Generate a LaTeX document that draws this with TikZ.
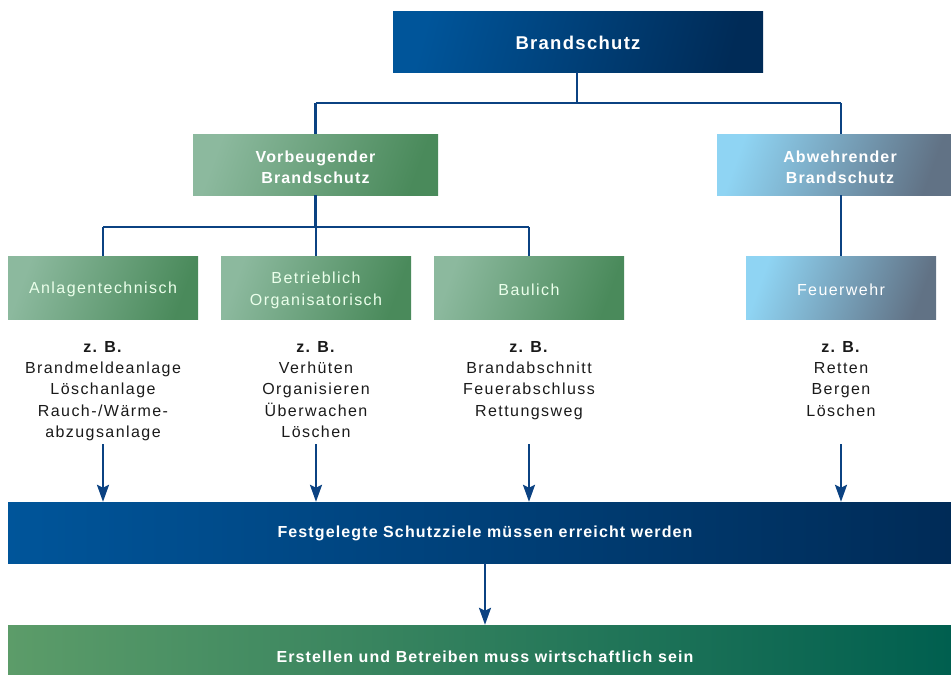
\documentclass[tikz,border=0pt]{standalone}
\usepackage{fontspec}
\setmainfont{Liberation Sans}[LetterSpace=9,BoldFeatures={LetterSpace=7}]
\usetikzlibrary{arrows.meta}
\definecolor{linec}{HTML}{0B4282}
\definecolor{bluel}{HTML}{00559A}
\definecolor{bluem}{HTML}{00468A}
\definecolor{blued}{HTML}{002B57}
\definecolor{greenl}{HTML}{8CB99E}
\definecolor{greend}{HTML}{4A8A5B}
\definecolor{skyl}{HTML}{8FD4F3}
\definecolor{skyd}{HTML}{617285}
\definecolor{gbl}{HTML}{5C9C69}
\definecolor{gbm}{HTML}{007558}
\definecolor{gbd}{HTML}{005F4F}
\definecolor{txt}{HTML}{1A1A1A}
\tikzset{
  box/.style={rectangle, inner sep=0pt},
  bluebox/.style={box, left color=bluel, right color=blued, shading angle=75},
  greenbox/.style={box, left color=greenl, right color=greend, shading angle=70},
  skybox/.style={box, left color=skyl, right color=skyd, shading angle=70},
  conn/.style={draw=linec, line width=2.5pt},
  arr/.style={draw=linec, line width=2.5pt, -{Stealth[length=17pt,width=12pt,inset=3pt]}},
  lst/.style={inner sep=0pt, align=center, text=txt, anchor=north, font=\fontsize{16}{21.4}\selectfont},
  lbl/.style={inner sep=0pt, align=center, text=white!92!green, font=\fontsize{16}{21.4}\selectfont},
  blbl/.style={inner sep=0pt, align=center, text=white, font=\fontsize{16}{21}\selectfont\bfseries},
}
\begin{document}
\begin{tikzpicture}[x=1pt,y=-1pt]
\useasboundingbox (0,0) rectangle (951,675);
% top
\node[bluebox, minimum width=370pt, minimum height=61pt] (bs) at (578,41.5) {};
\node[blbl, font=\fontsize{18.5}{21}\selectfont\bfseries] (bst) at (578,42.5) {Brandschutz};
% level 2
\node[greenbox, minimum width=245pt, minimum height=61pt] (vb) at (315.5,164.5) {};
\node[blbl] (vbt) at (315.5,167.5) {Vorbeugender\\Brandschutz};
\node[skybox, minimum width=234pt, minimum height=61pt] (ab) at (834,164.5) {};
\node[blbl] (abt) at (840,167.5) {Abwehrender\\Brandschutz};
% level 3
\node[greenbox, minimum width=190pt, minimum height=63pt] (an) at (103,287.5) {};
\node[lbl] (ant) at (103,289.5) {Anlagentechnisch};
\node[greenbox, minimum width=190pt, minimum height=63pt] (be) at (316,287.5) {};
\node[lbl] (bet) at (316,290.5) {Betrieblich\\Organisatorisch};
\node[greenbox, minimum width=190pt, minimum height=63pt] (ba) at (529,287.5) {};
\node[lbl] (bat) at (529,289.5) {Baulich};
\node[skybox, minimum width=190pt, minimum height=63pt] (fw) at (841,287.5) {};
\node[lbl, text=white] (fwt) at (841,289.5) {Feuerwehr};
% lists
\node[lst] (l1) at (103,340.8) {\textbf{z. B.}\\Brandmeldeanlage\\Löschanlage\\Rauch-/Wärme-\\abzugsanlage};
\node[lst] (l2) at (316,340.8) {\textbf{z. B.}\\Verhüten\\Organisieren\\Überwachen\\Löschen};
\node[lst] (l3) at (529,340.8) {\textbf{z. B.}\\Brandabschnitt\\Feuerabschluss\\Rettungsweg};
\node[lst] (l4) at (841,340.8) {\textbf{z. B.}\\Retten\\Bergen\\Löschen};
% bottom bars
\node[box, left color=bluel, middle color=bluem, right color=blued, minimum width=943pt, minimum height=61pt] (fz) at (479.5,532.5) {};
\node[blbl, font=\fontsize{16}{18}\selectfont\bfseries] (fzt) at (485,533.5) {Festgelegte Schutzziele müssen erreicht werden};
\node[box, left color=gbl, middle color=gbm, right color=gbd, minimum width=943pt, minimum height=50pt] (ew) at (479.5,650) {};
\node[blbl, font=\fontsize{16}{18}\selectfont\bfseries] (ewt) at (485,657) {Erstellen und Betreiben muss wirtschaftlich sein};
% helper coordinates
\coordinate (r1) at (0,103);
\coordinate (r2) at (0,227);
\coordinate (atop) at (0,444);
\coordinate (mid) at (485,0);
\coordinate (bsx) at (577,0);
% connectors
\draw[conn] (bs.south -| bsx) -- (r1 -| bsx);
\draw[conn] (vb.north |- r1) -- (fw.north |- r1);
\draw[conn] (vb.north |- r1) -- (vb.north);
\draw[conn] (fw.north |- r1) -- (fw.north |- ab.north);
\draw[conn] (vb.south) -- (vb.south |- r2);
\draw[conn] (an.north |- r2) -- (ba.north |- r2);
\draw[conn] (an.north |- r2) -- (an.north);
\draw[conn] (be.north |- r2) -- (be.north);
\draw[conn] (ba.north |- r2) -- (ba.north);
\draw[conn] (fw.north |- ab.south) -- (fw.north);
% arrows
\draw[arr] (an.south |- atop) -- (an.south |- fz.north);
\draw[arr] (be.south |- atop) -- (be.south |- fz.north);
\draw[arr] (ba.south |- atop) -- (ba.south |- fz.north);
\draw[arr] (fw.south |- atop) -- (fw.south |- fz.north);
\draw[arr] (fz.south -| mid) -- (ew.north -| mid);
\end{tikzpicture}
\end{document}
